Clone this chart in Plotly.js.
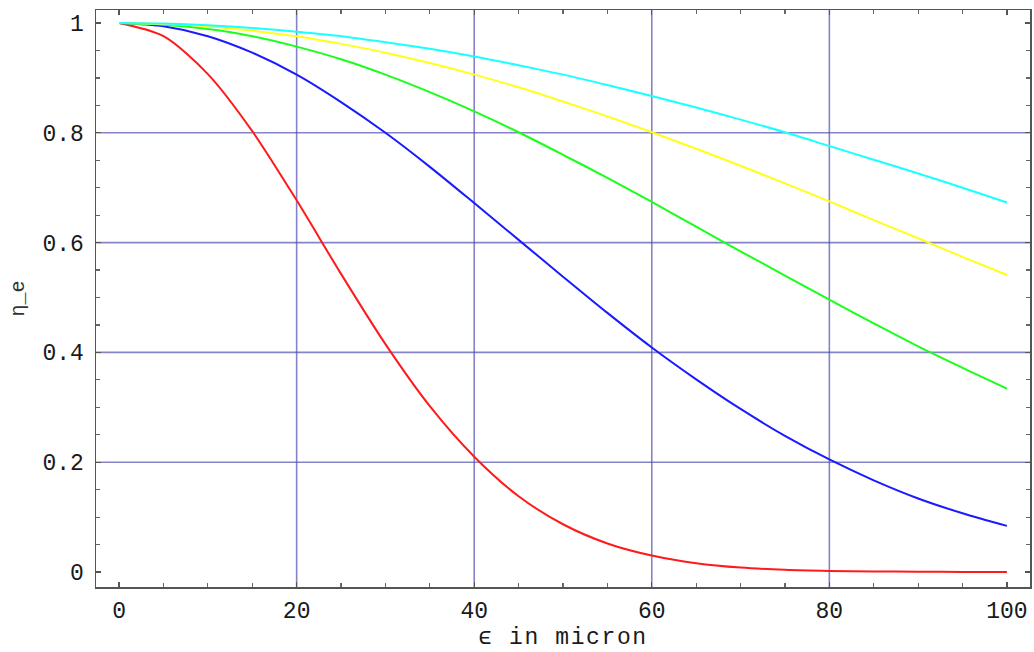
<!DOCTYPE html>
<html>
<head>
<meta charset="utf-8">
<script src="https://cdn.plot.ly/plotly-3.0.1.min.js"></script>
<style>
  html, body { margin: 0; padding: 0; background: #fff; }
  #chart { width: 1034px; height: 652px; }
  .xtitle { letter-spacing: 1.6px; }
</style>
</head>
<body>
<div id="chart"></div>
<script>
// Displacement epsilon (micron) sampled every 5 micron
const epsilon = [0, 5, 10, 15, 20, 25, 30, 35, 40, 45, 50, 55, 60, 65, 70, 75, 80, 85, 90, 95, 100];

// Efficiency eta_e for each configuration
const etaRed    = [1, 0.976, 0.907, 0.803, 0.677, 0.543, 0.415, 0.302, 0.210, 0.138, 0.087, 0.052, 0.030, 0.016, 0.008, 0.004, 0.002, 0.001, 0.0005, 0.0002, 0.0001];
const etaBlue   = [1, 0.994, 0.976, 0.946, 0.906, 0.856, 0.800, 0.738, 0.672, 0.605, 0.538, 0.472, 0.409, 0.351, 0.297, 0.248, 0.205, 0.167, 0.134, 0.107, 0.084];
const etaGreen  = [1, 0.997, 0.989, 0.976, 0.957, 0.934, 0.906, 0.874, 0.839, 0.801, 0.760, 0.718, 0.674, 0.629, 0.584, 0.540, 0.496, 0.453, 0.411, 0.372, 0.334];
const etaYellow = [1, 0.998, 0.994, 0.986, 0.976, 0.962, 0.946, 0.927, 0.906, 0.883, 0.857, 0.830, 0.801, 0.771, 0.740, 0.708, 0.675, 0.641, 0.608, 0.574, 0.541];
const etaCyan   = [1, 0.999, 0.996, 0.991, 0.984, 0.976, 0.965, 0.953, 0.939, 0.923, 0.906, 0.887, 0.867, 0.846, 0.824, 0.801, 0.776, 0.751, 0.726, 0.700, 0.673];

// Interior grid positions
const gridX = [20, 40, 60, 80];
const gridY = [0.2, 0.4, 0.6, 0.8];

const series = [
  { y: etaRed,    color: '#ff1a1a' },
  { y: etaBlue,   color: '#1a1aff' },
  { y: etaGreen,  color: '#1aff1a' },
  { y: etaYellow, color: '#ffff1a' },
  { y: etaCyan,   color: '#1affff' }
];

const traces = series.map(s => ({
  x: epsilon,
  y: s.y,
  type: 'scatter',
  mode: 'lines',
  line: { color: s.color, width: 2, shape: 'spline', smoothing: 0.8 },
  hoverinfo: 'x+y',
  showlegend: false
}));

const gridStyle = { color: 'rgba(80,80,175,0.7)', width: 1.6 };
const shapes = [
  ...gridX.map(v => ({ type: 'line', xref: 'x', yref: 'paper', x0: v, x1: v, y0: 0, y1: 1, line: gridStyle, layer: 'below' })),
  ...gridY.map(v => ({ type: 'line', xref: 'paper', yref: 'y', x0: 0, x1: 1, y0: v, y1: v, line: gridStyle, layer: 'below' }))
];

const mono = 'Liberation Mono, Courier New, monospace';
const tickFont = { family: mono, size: 23, color: '#1a1a1a' };

const layout = {
  width: 1034,
  height: 652,
  margin: { l: 96, r: 4, t: 10, b: 65 },
  paper_bgcolor: '#fff',
  plot_bgcolor: '#fff',
  shapes: shapes,
  xaxis: {
    range: [-2.6, 102.6],
    tickvals: [0, 20, 40, 60, 80, 100],
    ticktext: ['0', '20', '40', '60', '80', '100'],
    showgrid: false,
    zeroline: false,
    showline: true,
    linecolor: '#555',
    linewidth: 1.5,
    mirror: 'allticks',
    ticks: 'inside',
    ticklen: 5,
    tickwidth: 1.2,
    tickcolor: '#555',
    minor: { dtick: 5, tick0: 0, ticks: 'inside', ticklen: 4, tickwidth: 1.2, tickcolor: '#666', showgrid: false },
    tickfont: tickFont,
    ticklabelstandoff: 2,
    title: { text: 'ϵ in micron', font: { family: mono, size: 23, color: '#1a1a1a' }, standoff: 2 }
  },
  yaxis: {
    range: [-0.0273, 1.0237],
    tickvals: [0, 0.2, 0.4, 0.6, 0.8, 1],
    ticktext: ['0', '0.2', '0.4', '0.6', '0.8', '1'],
    showgrid: false,
    zeroline: false,
    showline: true,
    linecolor: '#555',
    linewidth: 1.5,
    mirror: 'allticks',
    ticks: 'inside',
    ticklen: 5,
    tickwidth: 1.2,
    tickcolor: '#555',
    minor: { dtick: 0.05, tick0: 0, ticks: 'inside', ticklen: 4, tickwidth: 1.2, tickcolor: '#666', showgrid: false },
    tickfont: tickFont,
    ticklabelstandoff: 6,
    title: { text: 'η_e', font: { family: mono, size: 20, color: '#333' }, standoff: 12 }
  }
};

Plotly.newPlot('chart', traces, layout, { displayModeBar: false, staticPlot: true });
</script>
</body>
</html>
